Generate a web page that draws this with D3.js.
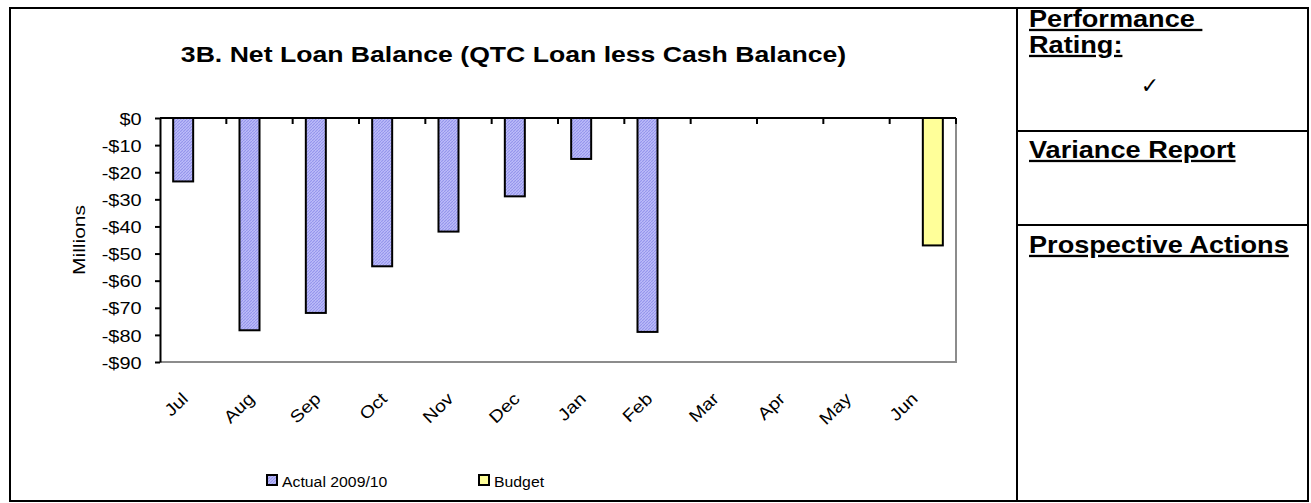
<!DOCTYPE html>
<html>
<head>
<meta charset="utf-8">
<script src="https://cdn.jsdelivr.net/npm/d3@7"></script>
<style>
  html, body { margin: 0; padding: 0; background: #fff; }
  svg { display: block; }
  text { font-family: "Liberation Sans", Arial, Helvetica, sans-serif; fill: #000; }
</style>
</head>
<body>
<svg id="chart" width="1311" height="503"></svg>
<script>
// ---- data ----
const months = ["Jul", "Aug", "Sep", "Oct", "Nov", "Dec", "Jan", "Feb", "Mar", "Apr", "May", "Jun"];
const actualValues = [-23.4, -78.3, -71.9, -54.7, -41.9, -28.9, -15.1, -78.9, null, null, null, null];
const budgetValues = [null, null, null, null, null, null, null, null, null, null, null, -47.0];
const seriesNames = ["Actual 2009/10", "Budget"];
const yTickValues = [0, -10, -20, -30, -40, -50, -60, -70, -80, -90];
const titleText = "3B. Net Loan Balance (QTC Loan less Cash Balance)";
const yAxisTitle = "Millions";

const svg = d3.select("#chart");

// hatched fill used by the actual bars
const defs = svg.append("defs");
const pat = defs.append("pattern")
  .attr("id", "actualFill")
  .attr("patternUnits", "userSpaceOnUse")
  .attr("width", 3).attr("height", 3);
pat.append("rect").attr("width", 3).attr("height", 3).attr("fill", "#bcbcf9");
pat.append("path").attr("d", "M0,3 L3,0").attr("stroke", "#9494ec").attr("stroke-width", 1.1);

// ---- outer frame and side panel ----
const frame = { left: 10, top: 8, right: 1308, bottom: 501 };
svg.append("rect")
  .attr("x", frame.left).attr("y", frame.top)
  .attr("width", frame.right - frame.left).attr("height", frame.bottom - frame.top)
  .attr("fill", "none").attr("stroke", "#000").attr("stroke-width", 2);

const panelX = 1017;
svg.append("line").attr("x1", panelX).attr("x2", panelX)
  .attr("y1", frame.top).attr("y2", frame.bottom)
  .attr("stroke", "#000").attr("stroke-width", 2);
[131, 225].forEach(yy => {
  svg.append("line").attr("x1", panelX).attr("x2", frame.right)
    .attr("y1", yy).attr("y2", yy)
    .attr("stroke", "#000").attr("stroke-width", 2);
});

// helper: text stretched horizontally along its baseline
function wideText(parent, x, y, str, opt) {
  const o = Object.assign({ size: 16, sx: 1, anchor: "start", weight: "normal", rotate: 0, underline: false }, opt);
  const g = parent.append("g")
    .attr("transform", `translate(${x},${y}) rotate(${o.rotate}) scale(${o.sx},1)`);
  const t = g.append("text")
    .attr("text-anchor", o.anchor)
    .style("font-size", o.size + "px")
    .style("font-weight", o.weight)
    .style("white-space", "pre")
    .text(str);
  if (o.underline) t.style("text-decoration", "underline");
  return t;
}

// side panel headings
const panel = svg.append("g");
const headOpt = { size: 23, sx: 1.18, weight: "bold", underline: true };
wideText(panel, 1029, 27, "Performance ", headOpt);
wideText(panel, 1029, 53, "Rating:", headOpt);
panel.append("text").attr("x", 1150).attr("y", 93).attr("text-anchor", "middle")
  .style("font-family", "DejaVu Sans, sans-serif").style("font-size", "22px").text("\u2713");
wideText(panel, 1029, 158, "Variance Report", headOpt);
wideText(panel, 1029, 253, "Prospective Actions", headOpt);

// ---- chart ----
const plot = { left: 160, right: 956, top: 118, bottom: 362 };

wideText(svg, 513.5, 62, titleText, { size: 22, sx: 1.21, weight: "bold", anchor: "middle" });

const x = d3.scaleBand().domain(months).range([plot.left, plot.right]);
const xSeries = d3.scaleBand().domain(seriesNames).range([0, x.bandwidth()]).paddingOuter(0.658);
const y = d3.scaleLinear().domain([0, -90]).range([plot.top, plot.bottom]);

// plot area border (right and bottom in grey)
svg.append("path")
  .attr("d", `M${plot.left},${plot.bottom} H${plot.right} V${plot.top}`)
  .attr("fill", "none").attr("stroke", "#8c8c8c").attr("stroke-width", 2);

// bars
const seriesData = [
  { name: seriesNames[0], values: actualValues, fill: "url(#actualFill)" },
  { name: seriesNames[1], values: budgetValues, fill: "#ffff99" }
];
seriesData.forEach(s => {
  const rows = months.map((m, i) => ({ m, v: s.values[i] })).filter(d => d.v != null);
  svg.append("g").selectAll("rect").data(rows).join("rect")
    .attr("x", d => x(d.m) + xSeries(s.name))
    .attr("width", xSeries.bandwidth())
    .attr("y", d => y(Math.max(0, d.v)))
    .attr("height", d => Math.abs(y(d.v) - y(0)))
    .attr("fill", s.fill)
    .attr("stroke", "#000").attr("stroke-width", 2);
});

// y axis
const yFmt = v => (v === 0 ? "$0" : "-$" + Math.abs(v));
const yAxisG = svg.append("g").attr("transform", `translate(${plot.left},0)`)
  .call(d3.axisLeft(y).tickValues(yTickValues).tickFormat(yFmt).tickSize(5).tickSizeOuter(0));
yAxisG.attr("font-family", null).attr("font-size", null);
yAxisG.select(".domain").attr("stroke", "#000").attr("stroke-width", 2);
yAxisG.selectAll(".tick line").attr("stroke", "#000").attr("stroke-width", 2);
const ySx = 1.17;
yAxisG.selectAll(".tick text")
  .attr("x", -18.5 / ySx)
  .attr("dy", "0.36em")
  .attr("transform", `scale(${ySx},1)`)
  .style("font-size", "17px");

// y axis title
wideText(svg, 85, 240, yAxisTitle, { size: 17, sx: 1.24, anchor: "middle", rotate: -90 });

// category axis along zero line, ticks between categories
const xAxisG = svg.append("g");
xAxisG.append("line")
  .attr("x1", plot.left).attr("x2", plot.right)
  .attr("y1", y(0)).attr("y2", y(0))
  .attr("stroke", "#000").attr("stroke-width", 2);
const boundaries = months.slice(1).map(m => x(m)).concat([plot.right]);
xAxisG.selectAll("line.tk").data(boundaries).join("line").attr("class", "tk")
  .attr("x1", d => d).attr("x2", d => d)
  .attr("y1", y(0)).attr("y2", y(0) + 6)
  .attr("stroke", "#000").attr("stroke-width", 2);

// rotated month labels
months.forEach(m => {
  wideText(xAxisG, x(m) + x.bandwidth() / 2 - 4, 400, m, { size: 17, sx: 1.15, anchor: "end", rotate: -44 });
});

// legend
const legend = svg.append("g");
const legendItems = [
  { name: seriesNames[0], fill: "url(#actualFill)", bx: 267, tx: 282 },
  { name: seriesNames[1], fill: "#ffff99", bx: 479, tx: 494 }
];
legendItems.forEach(d => {
  legend.append("rect").attr("x", d.bx).attr("y", 475).attr("width", 10).attr("height", 10)
    .attr("fill", d.fill).attr("stroke", "#000").attr("stroke-width", 2);
  wideText(legend, d.tx, 487, d.name, { size: 15.5, sx: 1.02 });
});
</script>
</body>
</html>
